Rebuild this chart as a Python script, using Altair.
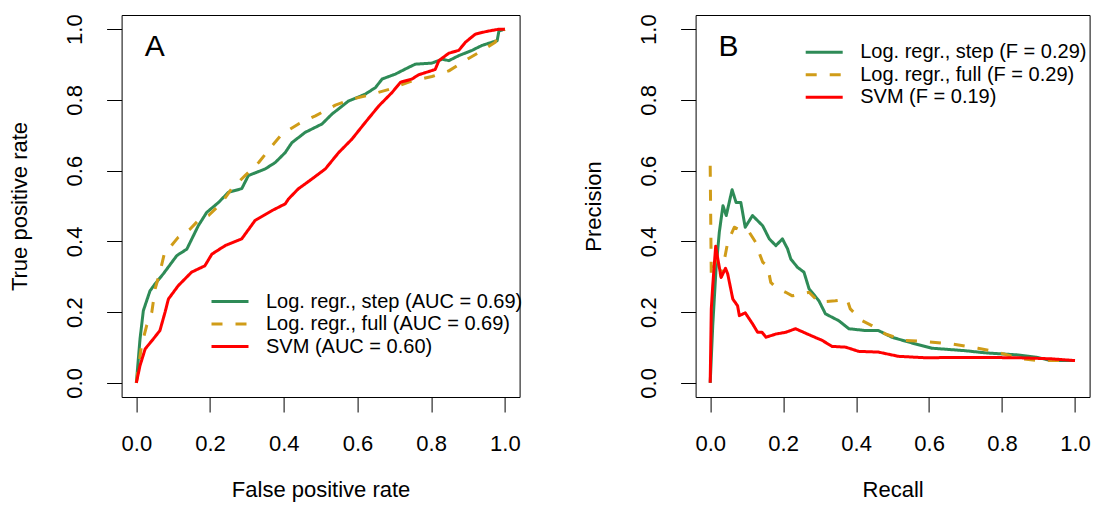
import altair as alt
import pandas as pd

FONT = "Liberation Sans"

# ---- series names / styles ----
names_roc = ["Log. regr., step (AUC = 0.69)", "Log. regr., full (AUC = 0.69)", "SVM (AUC = 0.60)"]
names_pr = ["Log. regr., step (F = 0.29)", "Log. regr., full (F = 0.29)", "SVM (F = 0.19)"]
colors = ["#2E8B57", "#D09C18", "#FF0000"]
dashes = [[1, 0], [11, 13], [1, 0]]
tick_values = [0.0, 0.2, 0.4, 0.6, 0.8, 1.0]

# ---- ROC curves (panel A) ----
roc_step_fpr = [0, 0.01, 0.019, 0.037, 0.051, 0.073, 0.11, 0.137, 0.168, 0.191, 0.223, 0.25, 0.286, 0.304,
                0.35, 0.377, 0.404, 0.422, 0.458, 0.504, 0.531, 0.576, 0.621, 0.649, 0.667, 0.703, 0.739,
                0.757, 0.802, 0.83, 0.848, 0.875, 0.911, 0.938, 0.965, 0.979, 0.984, 1.0]
roc_step_tpr = [0, 0.124, 0.204, 0.26, 0.28, 0.308, 0.36, 0.378, 0.444, 0.482, 0.51, 0.539, 0.549, 0.586,
                0.605, 0.623, 0.651, 0.679, 0.708, 0.732, 0.76, 0.797, 0.816, 0.835, 0.859, 0.873, 0.892,
                0.901, 0.904, 0.915, 0.911, 0.925, 0.94, 0.954, 0.963, 0.967, 0.995, 1.0]

roc_full_fpr = [0, 0.014, 0.028, 0.042, 0.051, 0.064, 0.078, 0.091, 0.114, 0.146, 0.168, 0.196, 0.232, 0.259,
                0.295, 0.332, 0.368, 0.395, 0.44, 0.486, 0.54, 0.585, 0.64, 0.693, 0.748, 0.802, 0.848,
                0.884, 0.929, 0.974, 0.984, 1.0]
roc_full_tpr = [0, 0.105, 0.162, 0.2, 0.266, 0.313, 0.374, 0.383, 0.412, 0.435, 0.459, 0.473, 0.51, 0.549,
                0.586, 0.623, 0.67, 0.703, 0.732, 0.755, 0.785, 0.802, 0.816, 0.832, 0.854, 0.866, 0.882,
                0.906, 0.934, 0.963, 0.991, 1.0]

roc_svm_fpr = [0, 0.01, 0.024, 0.046, 0.064, 0.078, 0.087, 0.114, 0.15, 0.186, 0.205, 0.241, 0.286, 0.322,
               0.368, 0.404, 0.413, 0.44, 0.476, 0.513, 0.549, 0.585, 0.621, 0.658, 0.694, 0.717, 0.748,
               0.766, 0.811, 0.821, 0.848, 0.875, 0.893, 0.92, 0.948, 0.984, 1.0]
roc_svm_tpr = [0, 0.049, 0.096, 0.124, 0.148, 0.2, 0.237, 0.275, 0.313, 0.331, 0.364, 0.388, 0.407, 0.459,
               0.487, 0.506, 0.52, 0.549, 0.576, 0.605, 0.651, 0.689, 0.736, 0.783, 0.821, 0.85, 0.859,
               0.871, 0.886, 0.911, 0.932, 0.94, 0.963, 0.986, 0.993, 1.0, 1.0]

# ---- Precision-recall curves (panel B) ----
pr_step_rec = [0, 0.007, 0.016, 0.025, 0.035, 0.044, 0.06, 0.071, 0.084, 0.096, 0.116, 0.144, 0.162, 0.18,
               0.198, 0.212, 0.221, 0.239, 0.257, 0.271, 0.298, 0.316, 0.352, 0.38, 0.425, 0.461, 0.498,
               0.552, 0.607, 0.698, 0.752, 0.843, 0.897, 0.934, 1.0]
pr_step_prec = [0, 0.162, 0.322, 0.426, 0.501, 0.473, 0.546, 0.51, 0.51, 0.44, 0.473, 0.444, 0.407, 0.388,
                0.407, 0.379, 0.35, 0.327, 0.313, 0.266, 0.232, 0.195, 0.176, 0.153, 0.148, 0.148, 0.129,
                0.113, 0.098, 0.091, 0.085, 0.079, 0.072, 0.063, 0.063]

pr_full_rec = [0, 0.003, 0.016, 0.03, 0.048, 0.066, 0.094, 0.107, 0.125, 0.13, 0.144, 0.157, 0.166, 0.18,
               0.207, 0.225, 0.271, 0.298, 0.343, 0.375, 0.384, 0.416, 0.443, 0.48, 0.534, 0.589, 0.661,
               0.734, 0.788, 0.843, 0.897, 1.0]
pr_full_prec = [0.614, 0.3, 0.35, 0.3, 0.397, 0.44, 0.426, 0.426, 0.397, 0.379, 0.341, 0.331, 0.284, 0.27,
                0.256, 0.246, 0.256, 0.228, 0.232, 0.237, 0.209, 0.176, 0.162, 0.138, 0.12, 0.117, 0.11,
                0.098, 0.087, 0.07, 0.063, 0.063]

pr_svm_rec = [0, 0.003, 0.007, 0.015, 0.021, 0.03, 0.042, 0.048, 0.062, 0.075, 0.08, 0.096, 0.116, 0.13,
              0.142, 0.153, 0.18, 0.207, 0.234, 0.271, 0.307, 0.334, 0.371, 0.407, 0.461, 0.516, 0.589,
              0.707, 0.843, 0.934, 1.0]
pr_svm_prec = [0, 0.209, 0.275, 0.386, 0.35, 0.298, 0.324, 0.308, 0.237, 0.218, 0.19, 0.198, 0.167, 0.143,
               0.143, 0.129, 0.138, 0.143, 0.153, 0.136, 0.12, 0.103, 0.101, 0.089, 0.087, 0.075, 0.071,
               0.072, 0.071, 0.068, 0.063]


def long_frame(names, xs_list, ys_list):
    rows = []
    for name, xs, ys in zip(names, xs_list, ys_list):
        for i, (x, y) in enumerate(zip(xs, ys)):
            rows.append({"x": x, "y": y, "series": name, "idx": i})
    return pd.DataFrame(rows)


df_roc = long_frame(names_roc, [roc_step_fpr, roc_full_fpr, roc_svm_fpr],
                    [roc_step_tpr, roc_full_tpr, roc_svm_tpr])
df_pr = long_frame(names_pr, [pr_step_rec, pr_full_rec, pr_svm_rec],
                   [pr_step_prec, pr_full_prec, pr_svm_prec])

H = 382


def panel(df, names, xtitle, ytitle, letter, lx, ly, width):
    sx = alt.Scale(domain=[-0.04, 1.04], nice=False, zero=False)
    sy = alt.Scale(domain=[-0.04, 1.04], nice=False, zero=False)
    leg = alt.Legend(orient="none", legendX=lx, legendY=ly, title=None, symbolType="stroke",
                     symbolSize=1369, symbolStrokeWidth=3, labelFont=FONT, labelFontSize=20,
                     labelColor="black", labelOffset=16, clipHeight=22, rowPadding=0.5, padding=0,
                     labelLimit=0)
    lines = alt.Chart(df).mark_line(strokeWidth=3, strokeJoin="round").encode(
        x=alt.X("x:Q", scale=sx, axis=alt.Axis(values=tick_values, format=".1f", title=xtitle)),
        y=alt.Y("y:Q", scale=sy, axis=alt.Axis(values=tick_values, format=".1f", title=ytitle)),
        color=alt.Color("series:N", scale=alt.Scale(domain=names, range=colors), legend=leg),
        strokeDash=alt.StrokeDash("series:N", scale=alt.Scale(domain=names, range=dashes), legend=leg),
        order=alt.Order("idx:Q"),
    )
    label = alt.Chart(pd.DataFrame({"t": [letter]})).mark_text(
        font=FONT, fontSize=30, align="center", baseline="middle", color="black"
    ).encode(x=alt.datum(0.05), y=alt.datum(0.95), text="t:N")
    return alt.layer(lines, label).properties(width=width, height=H)


left = panel(df_roc, names_roc, "False positive rate", "True positive rate", "A", 88.4, 275.6, 398)
right = panel(df_pr, names_pr, "Recall", "Precision", "B", 108.6, 26.2, 394)

chart = alt.hconcat(left, right, spacing=58).resolve_scale(
    color="independent", strokeDash="independent"
).properties(
    autosize=alt.AutoSizeParams(type="none"),
    padding={"left": 113.6, "top": 7, "right": 970.4, "bottom": 488}
).configure_view(
    stroke="black", strokeWidth=1
).configure_axis(
    labelFont=FONT, titleFont=FONT, labelFontSize=22, titleFontSize=22, titleFontWeight="normal",
    labelColor="black", titleColor="black", tickColor="black", tickSize=15, tickWidth=1,
    domain=False, grid=False, labelFlush=False, labelOverlap=False
).configure_axisX(
    labelPadding=21, titlePadding=25, labelAngle=0
).configure_axisY(
    labelAngle=270, labelAlign="center", labelBaseline="bottom", labelPadding=20, titlePadding=32
)

chart.save("out.html", embed_options={"renderer": "svg", "actions": False})
